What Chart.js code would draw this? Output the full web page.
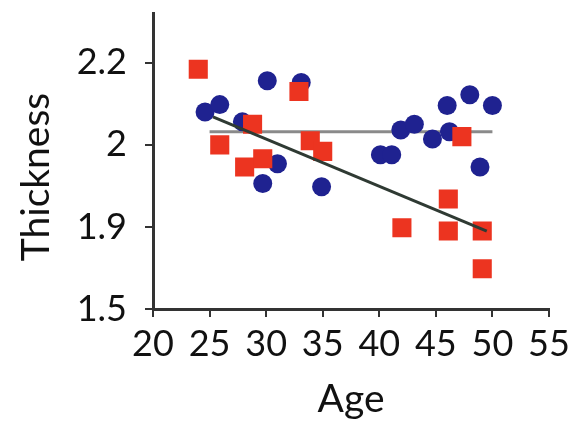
<!DOCTYPE html>
<html>
<head>
<meta charset="utf-8">
<script src="https://cdn.jsdelivr.net/npm/chart.js@4/dist/chart.umd.min.js"></script>
<style>
  body { margin: 0; background: #fff; }
  #wrap { width: 572px; height: 427px; }
</style>
</head>
<body>
<div id="wrap"><canvas id="c" width="572" height="427"></canvas></div>
<script>
// ─── data ──────────────────────────────────────────────────────────
const xTicks = [20, 25, 30, 35, 40, 45, 50, 55];
const yTicks = [1.8, 1.9, 2.0, 2.1];
const yTickLabels = ["1.5", "1.9", "2", "2.2"];

const blueAge = [24.6, 25.9, 27.9, 30.1, 31.0, 29.7, 33.1, 34.9, 40.1, 41.1, 41.9, 43.1, 44.7, 46.0, 46.2, 48.0, 50.0, 48.9];
const blueThick = [2.040, 2.049, 2.028, 2.078, 1.977, 1.953, 2.076, 1.949, 1.988, 1.988, 2.018, 2.025, 2.007, 2.048, 2.016, 2.061, 2.048, 1.973];

const redAge = [24.0, 32.9, 28.8, 25.9, 28.1, 29.7, 33.9, 35.0, 42.0, 46.1, 46.1, 49.1, 49.1, 47.3];
const redThick = [2.092, 2.065, 2.025, 2.000, 1.973, 1.983, 2.005, 1.992, 1.899, 1.934, 1.895, 1.895, 1.849, 2.010];

const flatAge = [25.0, 50.0];
const flatThick = [2.016, 2.016];
const trendAge = [25.3, 49.5];
const trendThick = [2.034, 1.895];

const pts = (xs, ys) => xs.map((x, i) => ({ x, y: ys[i] }));

// ─── y title, drawn a bit below the axis centre like the original ──
const yTitlePlugin = {
    id: "yTitle",
    afterDraw(chart) {
        const { ctx } = chart;
        ctx.save();
        ctx.translate(36, 177);
        ctx.rotate(-Math.PI / 2);
        ctx.font = "39px Lato";
        ctx.fillStyle = "#111";
        ctx.textAlign = "center";
        ctx.textBaseline = "middle";
        ctx.fillText("Thickness", 0, 0);
        ctx.restore();
    },
};

// ─── chart ─────────────────────────────────────────────────────────
const axisColor = "#333";
const tickFont = { family: "Lato", size: 36 };
const titleFont = { family: "Lato", size: 39 };

new Chart(document.getElementById("c"), {
    type: "scatter",
    plugins: [yTitlePlugin],
    data: {
        datasets: [
            {
                type: "line",
                data: pts(trendAge, trendThick),
                borderColor: "#2f3a33",
                borderWidth: 3,
                pointRadius: 0,
                order: 0,
            },
            {
                data: pts(redAge, redThick),
                pointStyle: "rect",
                pointRadius: 13.5,
                backgroundColor: "#ec3420",
                borderWidth: 0,
                order: 1,
            },
            {
                data: pts(blueAge, blueThick),
                pointStyle: "circle",
                pointRadius: 9.5,
                backgroundColor: "#1f2290",
                borderWidth: 0,
                order: 2,
            },
            {
                type: "line",
                data: pts(flatAge, flatThick),
                borderColor: "#8a8a8a",
                borderWidth: 3,
                pointRadius: 0,
                order: 3,
            },
        ],
    },
    options: {
        responsive: false,
        animation: false,
        layout: { padding: { top: 10, right: 23, bottom: 0, left: 0 } },
        plugins: { legend: { display: false }, tooltip: { enabled: false } },
        scales: {
            x: {
                type: "linear",
                min: 20,
                max: 55,
                afterBuildTicks: s => { s.ticks = xTicks.map(v => ({ value: v })); },
                afterFit: s => { s.height = 118; s.paddingLeft = 0; s.paddingRight = 0; },
                border: { display: true, color: axisColor, width: 3 },
                grid: { drawOnChartArea: false, drawTicks: true, tickLength: 8, color: axisColor, lineWidth: 2 },
                ticks: { font: tickFont, color: "#111", padding: 6, maxRotation: 0, autoSkip: false },
                title: { display: true, text: "Age", font: titleFont, color: "#111", padding: { top: 0 } },
            },
            y: {
                type: "linear",
                min: 1.8,
                max: 2.16,
                afterBuildTicks: s => { s.ticks = yTicks.map(v => ({ value: v })); },
                afterFit: s => { s.width = 153; s.paddingTop = 0; s.paddingBottom = 0; },
                border: { display: true, color: axisColor, width: 3 },
                grid: { drawOnChartArea: false, drawTicks: true, tickLength: 8, color: axisColor, lineWidth: 2 },
                ticks: {
                    font: tickFont,
                    color: "#111",
                    padding: 18,
                    autoSkip: false,
                    callback: (v, i) => yTickLabels[i],
                },
                title: { display: false },
            },
        },
    },
});
</script>
</body>
</html>
